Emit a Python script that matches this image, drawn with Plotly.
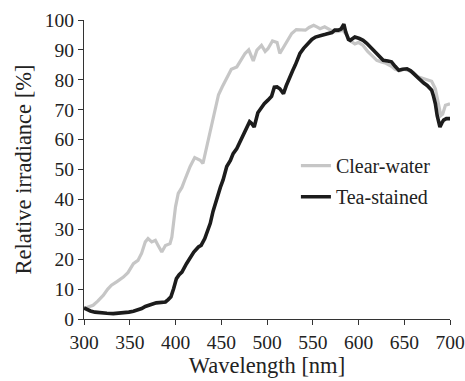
import plotly.graph_objects as go

clear_wl = [300, 305, 310, 315, 321, 326, 330, 336, 343, 348, 354, 359, 363, 367, 370, 374, 378, 381, 385, 389,
            394, 396, 398, 400, 403, 407, 410, 416, 421, 427, 430, 434, 439, 443, 447, 451, 456, 461, 467, 471,
            476, 480, 483, 485, 489, 494, 498, 501, 506, 511, 514, 518, 523, 527, 532, 537, 542, 546, 551, 555,
            558, 563, 568, 573, 578, 583, 587, 591, 596, 600, 605, 610, 615, 620, 625, 630, 636, 640, 645, 650,
            655, 660, 665, 670, 675, 680, 684, 687, 690, 692, 695, 700]
clear_val = [3.5, 4.0, 4.6, 6.0, 7.9, 10, 11.3, 12.5, 14, 15.5, 18.5, 19.6, 22, 25.8, 26.9, 25.8, 26.3, 24.6, 22.4, 24.6,
             25.2, 27.4, 32, 37.5, 42, 44, 46.4, 51, 54, 53.1, 52, 57.5, 65, 69.8, 75, 77.6, 80.5, 83.5, 84.3, 86.5,
             88.8, 90, 88, 86.3, 89.9, 91.5, 89.5, 90.4, 93, 92.5, 88.8, 91, 93.8, 95.5, 96.8, 96.6, 96.6, 97.5, 98.2, 97.6,
             97.1, 97.7, 96.8, 96, 96.2, 96.6, 95, 93, 92, 92.5, 91.5, 89.5, 88, 86.5, 86, 85.5, 84.5, 83.5, 83, 83.5,
             83, 82.5, 81, 80.5, 80, 79.5, 77, 72, 68, 68.5, 71.5, 72]

tea_wl = [300, 303, 307, 312, 318, 325, 332, 338, 343, 349, 354, 359, 363, 367, 370, 375, 379, 384, 389, 392,
          395, 398, 401, 404, 407, 412, 416, 420, 425, 428, 432, 435, 438, 441, 445, 449, 452, 456, 460, 463,
          467, 471, 476, 479, 481, 483, 486, 490, 493, 497, 501, 505, 508, 511, 514, 518, 521, 524, 528, 531,
          536, 540, 545, 549, 553, 557, 560, 564, 567, 571, 574, 578, 581, 584, 586, 589, 591, 596, 601, 605,
          609, 613, 617, 620, 624, 627, 632, 636, 640, 644, 648, 653, 657, 660, 664, 667, 671, 675, 680, 682,
          684, 686, 689, 691, 693, 696, 700]
tea_val = [3.7, 3.2, 2.7, 2.3, 2.0, 1.9, 1.8, 1.9, 2.0, 2.3, 2.6, 3.0, 3.5, 4.2, 4.6, 5.0, 5.4, 5.6, 5.7, 6.5,
           7.4, 10.2, 13.5, 14.8, 15.7, 18.5, 20.5, 22.4, 24.1, 24.6, 26.9, 29.5, 32, 36, 40.5, 44, 46.5, 51, 53, 55.3,
           57, 59.5, 63, 65, 66, 65.5, 64.2, 69, 70.5, 72, 73.2, 74.5, 77.5, 77.6, 77, 75.4, 78, 80.5, 83, 85,
           88.8, 90.5, 92.1, 93.5, 94.3, 94.8, 94.9, 95.2, 95.4, 95.8, 96.6, 96.6, 97, 98.6, 96, 93.5, 93.2, 94.3, 93.8, 93.2,
           92.2, 91, 89.8, 88.8, 87.5, 86.5, 86.3, 86, 84.5, 83.2, 83.5, 83.7, 83, 82.1, 81, 79.8, 79, 78.1, 76.5, 74.5,
           72, 68, 64.2, 65.5, 66.5, 67, 67]

x_ticks = [300, 350, 400, 450, 500, 550, 600, 650, 700]
y_ticks = [0, 10, 20, 30, 40, 50, 60, 70, 80, 90, 100]

font_family = "Liberation Serif"

fig = go.Figure()
fig.add_trace(go.Scatter(x=clear_wl, y=clear_val, mode="lines", name="Clear-water",
                         legendgroup="a",
                         line=dict(color="#c6c6c6", width=3.2)))
fig.add_trace(go.Scatter(x=tea_wl, y=tea_val, mode="lines", name="Tea-stained",
                         legendgroup="b",
                         line=dict(color="#1c1c1c", width=3.6)))

axis_common = dict(showgrid=False, zeroline=False, showline=True, linecolor="#333333", linewidth=1.2,
                   ticks="outside", ticklen=5, tickwidth=1.2, tickcolor="#333333",
                   tickfont=dict(family=font_family, size=19.5, color="#222222"),
                   mirror=False, automargin=False)

fig.update_layout(
    width=465, height=381,
    margin=dict(l=84, r=15, t=20, b=62),
    paper_bgcolor="white", plot_bgcolor="white",
    font=dict(family=font_family, size=19, color="#222222"),
    xaxis=dict(range=[300, 700], tickvals=x_ticks, ticktext=[str(v) for v in x_ticks],
               title=dict(text="Wavelength [nm]", font=dict(family=font_family, size=22.5), standoff=0),
               **axis_common),
    yaxis=dict(range=[0, 100], tickvals=y_ticks, ticktext=[str(v) for v in y_ticks],
               title=dict(text="Relative irradiance [%]", font=dict(family=font_family, size=22.5), standoff=6),
               **axis_common),
    legend=dict(x=0.579, y=0.578, xanchor="left", yanchor="top", bgcolor="rgba(0,0,0,0)",
                font=dict(family=font_family, size=20), tracegroupgap=2, traceorder="grouped"),
)

fig.write_html("out.html")
